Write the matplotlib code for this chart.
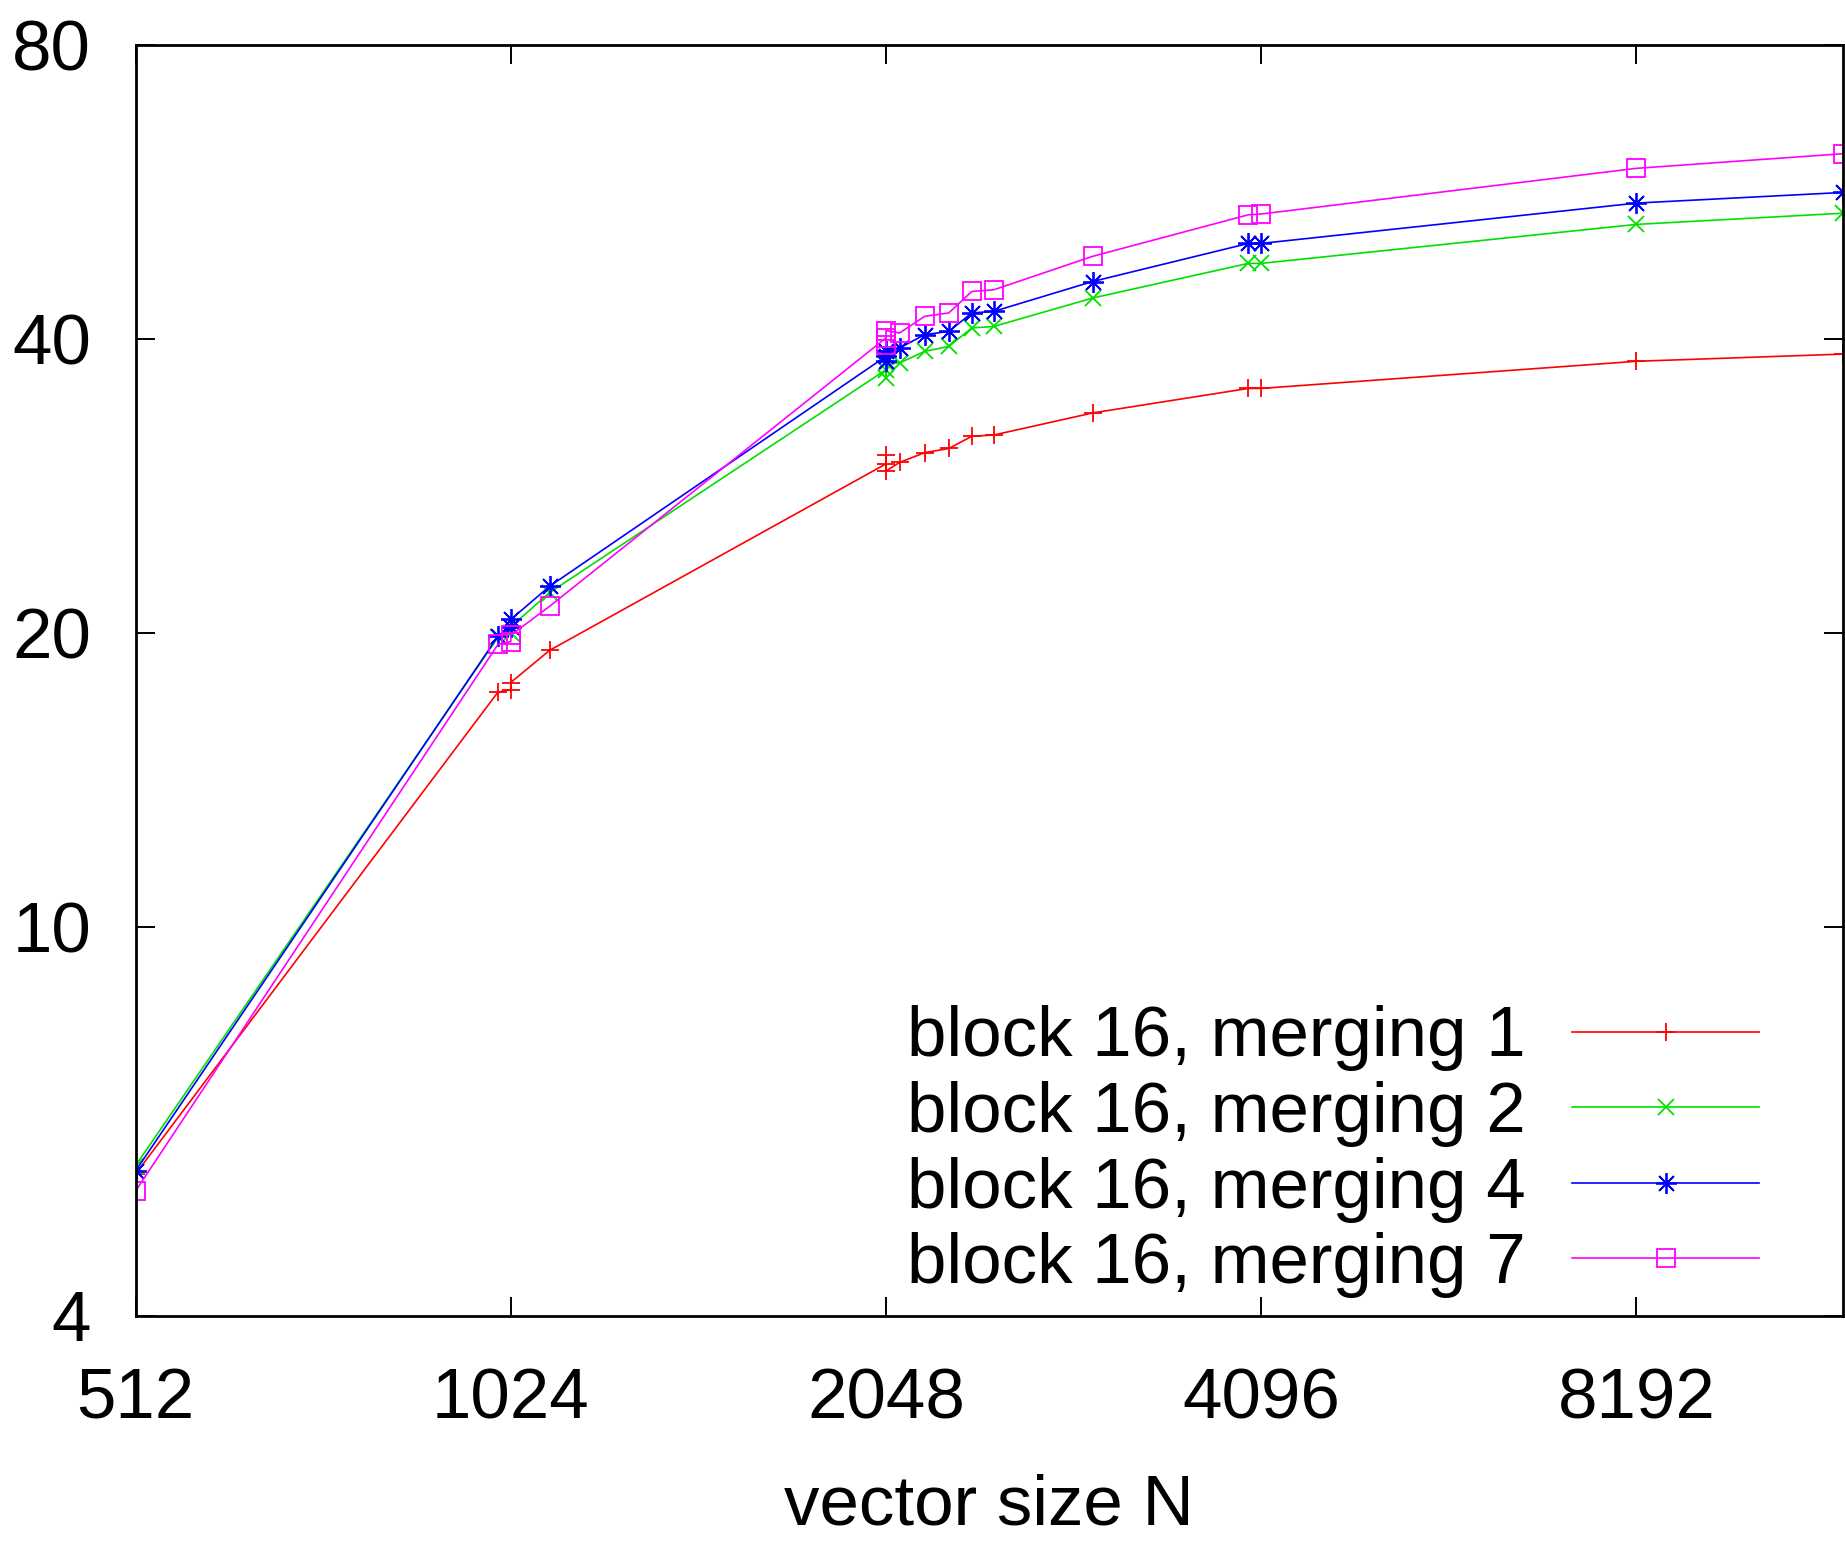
import matplotlib
matplotlib.use("Agg")
import matplotlib.pyplot as plt

plt.rcParams['font.family'] = ['Liberation Sans', 'DejaVu Sans']

# vector sizes (several runs near 1024 and 2048)
sizes = [512, 1000, 1024, 1024, 1100, 2048, 2048, 2048, 2100, 2200, 2300,
         2400, 2500, 3000, 4000, 4096, 8192, 12000]

merging1 = [5.59, 17.4, 17.5, 17.8, 19.2, 29.8, 30.4, 29.3, 29.9, 30.6, 30.9,
            31.8, 31.9, 33.6, 35.6, 35.6, 37.95, 38.6]
merging2 = [5.70, 19.8, 20.0, 20.3, 22.0, 37.2, 36.5, 37.8, 37.8, 38.85, 39.3,
            41.05, 41.2, 44.05, 47.8, 47.8, 52.4, 53.8]
merging4 = [5.63, 19.85, 20.3, 20.65, 22.33, 38.4, 38.0, 38.9, 39.16, 40.41, 40.72,
            42.53, 42.69, 45.8, 50.1, 50.1, 55.1, 56.5]
merging7 = [5.37, 19.47, 19.6, 19.9, 21.3, 40.1, 39.4, 40.8, 40.57, 42.19, 42.53,
            44.74, 44.92, 48.6, 53.6, 53.7, 59.8, 61.9]

labels = ["block 16, merging 1", "block 16, merging 2",
          "block 16, merging 4", "block 16, merging 7"]
xticks = [512, 1024, 2048, 4096, 8192]
yticks = [4, 10, 20, 40, 80]

fig = plt.figure(figsize=(18.45, 15.42), dpi=100)
ax = fig.add_axes([0.0735, 0.1466, 0.9254, 0.8243])

styles = [
    dict(color='#ff0000', marker='+', ms=13),
    dict(color='#00e000', marker='x', ms=12),
    dict(color='#0000ff', marker=(8, 2, 0), ms=15),
    dict(color='#ff00ff', marker='s', ms=13, fillstyle='none'),
]
for ys, lab, st in zip([merging1, merging2, merging4, merging7], labels, styles):
    ax.plot(sizes, ys, lw=1.2, mew=1.3, label=lab, **st)

ax.set_xscale('log', base=2)
ax.set_yscale('log')
ax.set_xlim(512, 12000)
ax.set_ylim(4, 80)
ax.set_xticks(xticks)
ax.set_xticklabels([str(v) for v in xticks])
ax.set_yticks(yticks)
ax.set_yticklabels([str(v) for v in yticks])
ax.minorticks_off()

ax.tick_params(axis='both', which='major', direction='in', length=14,
               width=1.4, labelsize=51, top=True, right=True)
ax.tick_params(axis='x', pad=37)
ax.tick_params(axis='y', pad=32)
for sp in ax.spines.values():
    sp.set_linewidth(2.0)

ax.set_xlabel("vector size N", fontsize=51, labelpad=29)

leg = ax.legend(loc='lower right', bbox_to_anchor=(0.951, 0.014),
                frameon=False, fontsize=51, markerfirst=False,
                handlelength=2.64, handletextpad=0.66, labelspacing=0.135,
                borderpad=0, borderaxespad=0)
for t in leg.get_texts():
    t.set_ha('right')

fig.savefig("out.png", dpi=100)
